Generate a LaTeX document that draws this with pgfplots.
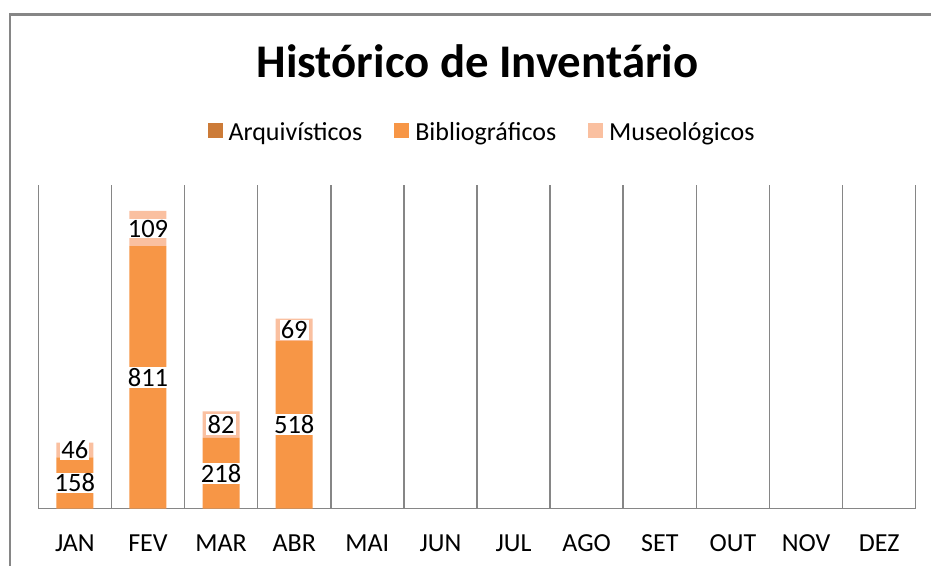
\documentclass[border=0pt]{standalone}
\usepackage{pgfplots}
\pgfplotsset{compat=1.18}
\usepackage{pgfplotstable}
\usepackage{fontspec}
\setmainfont{Carlito}
\definecolor{arq}{RGB}{204,123,56}
\definecolor{bib}{RGB}{247,150,70}
\definecolor{mus}{RGB}{250,192,160}
\definecolor{gridc}{RGB}{134,134,134}

\pgfplotstableread{
x arq bib mus
0 0 158 46
1 0 811 109
2 0 218 82
3 0 518 69
}\data

\begin{document}
\begin{tikzpicture}[x=1pt,y=1pt]
\useasboundingbox (0,0) rectangle (931,565);
\fill[white] (0,0) rectangle (931,565);
\draw[gridc, line width=2.6pt] (10,-5) -- (10,550.5) -- (940,550.5);
\node[anchor=base, font=\fontsize{46.8}{50}\selectfont\bfseries, inner sep=0pt] at (477.5,487) {Histórico de Inventário};
\begin{axis}[
 at={(38.3pt,56.5pt)}, anchor=south west, scale only axis,
 width=877.4pt, height=323.5pt,
 xmin=-0.5, xmax=11.5, ymin=0, ymax=1000,
 ybar stacked, bar width=37pt,
 axis y line=none, axis x line*=bottom,
 x axis line style={gridc, line width=1.5pt},
 xtick={0,...,11},
 xticklabels={JAN,FEV,MAR,ABR,MAI,JUN,JUL,AGO,SET,OUT,NOV,DEZ},
 minor xtick={-0.5,0.5,...,11.5},
 xminorgrids, minor grid style={gridc, line width=1.5pt},
 major tick length=0pt, minor tick length=0pt,
 xticklabel style={anchor=base, yshift=-42.5pt, font=\fontsize{26}{30}\selectfont},
 legend style={at={(0.5057,1.164)}, anchor=center, draw=none, fill=none,
   legend columns=3, font=\fontsize{26}{30}\selectfont,
   /tikz/every odd column/.append style={column sep=4pt},
   /tikz/every even column/.append style={column sep=30pt}},
 legend image code/.code={\fill[#1] (0pt,-6pt) rectangle (15pt,9pt);},
 clip=false,
]
\addplot[fill=arq, draw=none] table[x=x, y=arq]{\data};
\addplot[fill=bib, draw=none, nodes near coords, point meta=explicit symbolic,
  every node near coord/.append style={anchor=center, fill=white, inner sep=1.2pt, text=black, font=\fontsize{26.5}{30}\selectfont}]
  table[x=x, y=bib, meta=bib]{\data};
\addplot[fill=mus, draw=none, nodes near coords, point meta=explicit symbolic,
  every node near coord/.append style={anchor=center, fill=white, inner sep=1.2pt, text=black, font=\fontsize{26.5}{30}\selectfont}]
  table[x=x, y=mus, meta=mus]{\data};
\legend{Arquivísticos,Bibliográficos,Museológicos}
\end{axis}
\end{tikzpicture}
\end{document}
